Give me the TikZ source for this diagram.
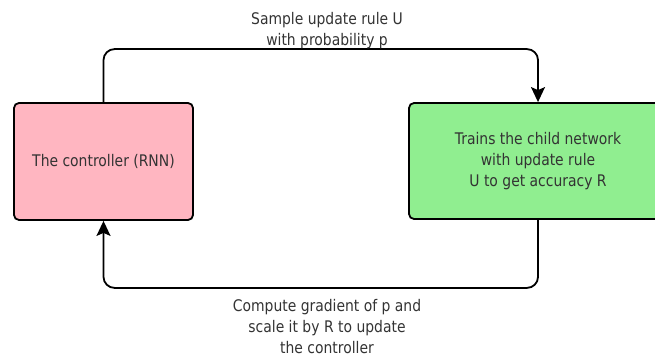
\documentclass[tikz,border=0pt]{standalone}
\usepackage{fontspec}
\setmainfont{DejaVu Sans}[FakeStretch=0.87]
\usetikzlibrary{arrows.meta}
\definecolor{ctrlpink}{HTML}{FFB6C1}
\definecolor{childgreen}{HTML}{90EE90}
\begin{document}
\begin{tikzpicture}[x=1pt, y=-1pt,
    box/.style={draw, line width=1.8pt, rounded corners=5pt, align=center, text=black!80, font=\fontsize{16}{21}\selectfont},
    flow/.style={-{Stealth[length=15pt, width=14pt, inset=3pt]}, line width=1.8pt, rounded corners=11pt},
    lbl/.style={align=center, text=black!80, font=\fontsize{16}{21}\selectfont}]
    \useasboundingbox (0,0) rectangle (655,358);
    \clip (0,0) rectangle (655,358);

    % Boxes
    \node[box, fill=ctrlpink, minimum width=179pt, minimum height=117pt] (ctrl) at (103.5,161.5) {The controller (RNN)};
    \node[box, fill=childgreen, minimum width=258pt, minimum height=116pt] (child) at (538,161) {Trains the child network\\with update rule\\U to get accuracy R};

    % Loop arrows
    \draw[flow] (ctrl.north) -- ++(0,-53) -| (child.north);
    \draw[flow] (child.south) -- ++(0,68) -| (ctrl.south);

    % Labels
    \node[lbl] (sample) at (327,31) {Sample update rule U\\with probability p};
    \node[lbl] (grad) at (327,327) {Compute gradient of p and\\scale it by R to update\\the controller};
\end{tikzpicture}
\end{document}
